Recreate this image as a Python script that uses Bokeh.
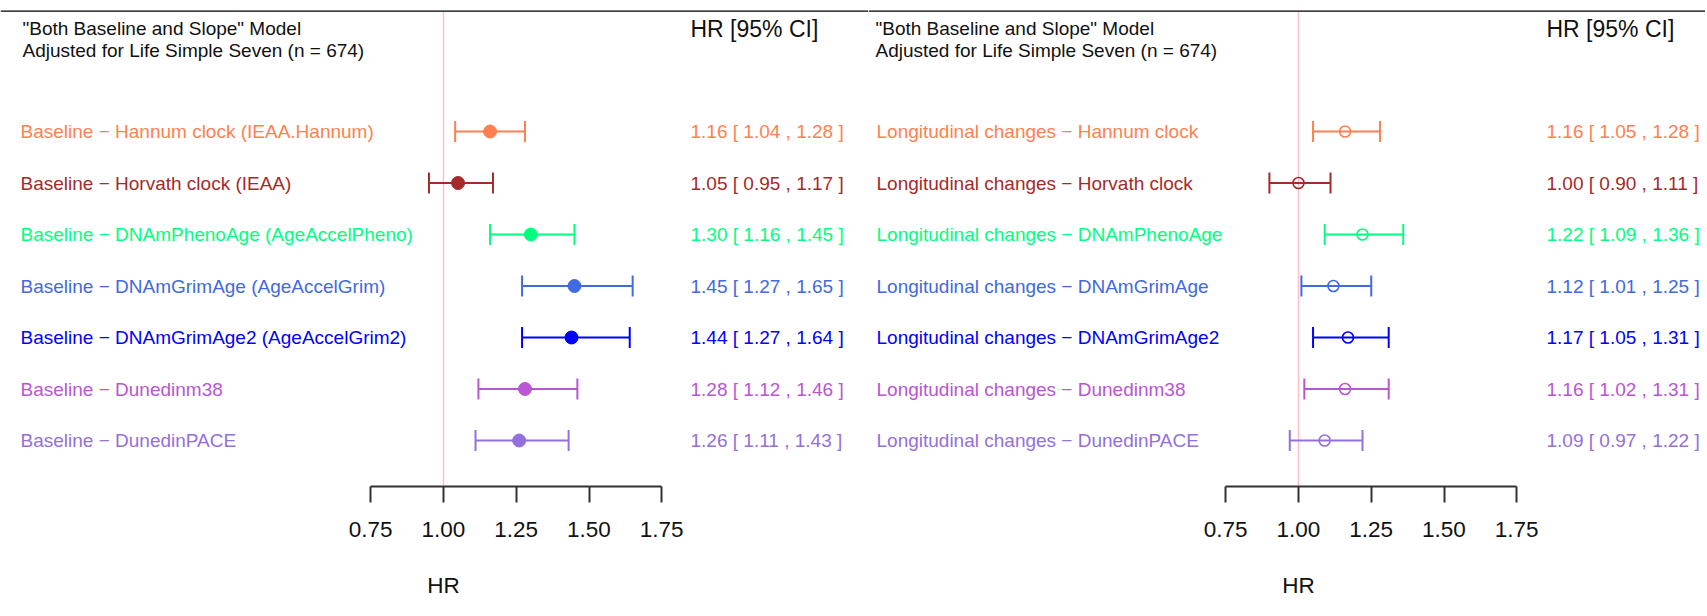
from bokeh.plotting import figure
from bokeh.layouts import row
from bokeh.models import (Range1d, Span, Label, FixedTicker, NumeralTickFormatter,
                          ColumnDataSource, LinearAxis, CustomJSTickFormatter)
from bokeh.core.properties import value
from bokeh.embed import file_html
from bokeh.resources import INLINE

# ---------------- data ----------------
title_lines = ['"Both Baseline and Slope" Model', "Adjusted for Life Simple Seven (n = 674)"]
header = "HR [95% CI]"
axis_title = "HR"
ticks = [0.75, 1.00, 1.25, 1.50, 1.75]

baseline_labels = [
    "Baseline  \u2212 Hannum clock (IEAA.Hannum)",
    "Baseline  \u2212 Horvath clock (IEAA)",
    "Baseline  \u2212 DNAmPhenoAge (AgeAccelPheno)",
    "Baseline  \u2212 DNAmGrimAge (AgeAccelGrim)",
    "Baseline  \u2212 DNAmGrimAge2 (AgeAccelGrim2)",
    "Baseline  \u2212 Dunedinm38",
    "Baseline  \u2212 DunedinPACE",
]
longitudinal_labels = [
    "Longitudinal changes \u2212 Hannum clock",
    "Longitudinal changes \u2212 Horvath clock",
    "Longitudinal changes \u2212 DNAmPhenoAge",
    "Longitudinal changes \u2212 DNAmGrimAge",
    "Longitudinal changes \u2212 DNAmGrimAge2",
    "Longitudinal changes \u2212 Dunedinm38",
    "Longitudinal changes \u2212 DunedinPACE",
]
colors = ["#FF7F50", "#A52A2A", "#00FF7F", "#4169E1", "#0000FF", "#BA55D3", "#9370DB"]

base_hr = [1.16, 1.05, 1.30, 1.45, 1.44, 1.28, 1.26]
base_lo = [1.04, 0.95, 1.16, 1.27, 1.27, 1.12, 1.11]
base_hi = [1.28, 1.17, 1.45, 1.65, 1.64, 1.46, 1.43]

long_hr = [1.16, 1.00, 1.22, 1.12, 1.17, 1.16, 1.09]
long_lo = [1.05, 0.90, 1.09, 1.01, 1.05, 1.02, 0.97]
long_hi = [1.28, 1.11, 1.36, 1.25, 1.31, 1.31, 1.22]

rows = [1, 2, 3, 4, 5, 6, 7]

# ---------------- layout constants ----------------
FONT = "Liberation Sans"
PX_PER_HR = 291.0
PX_PER_ROW = 51.5
FIG_H = 604
BORDER_TOP = 10
BORDER_BOTTOM = 118
FRAME_H = FIG_H - BORDER_TOP - BORDER_BOTTOM
FIRST_ROW_OFFSET = 121  # px from frame top to first row


def y_at(offset_px):
    return 1 - (FIRST_ROW_OFFSET - offset_px) / PX_PER_ROW


def make_panel(width, ref_px, labels, hr, lo, hi, filled, label_px, title_px, value_px):
    x0 = 1 - ref_px / PX_PER_HR
    x1 = x0 + width / PX_PER_HR

    def x_at(px):
        return x0 + px / PX_PER_HR

    y_top = y_at(0)
    y_bottom = y_at(FRAME_H)

    p = figure(width=width, height=FIG_H, output_backend="svg", toolbar_location=None,
               x_range=Range1d(x0, x1), y_range=Range1d(y_bottom, y_top),
               y_axis_location=None, min_border=0,
               min_border_left=0, min_border_right=0,
               min_border_top=BORDER_TOP, min_border_bottom=BORDER_BOTTOM)
    p.outline_line_color = None
    p.grid.visible = False
    p.background_fill_color = "white"
    p.border_fill_color = "white"

    ax = p.xaxis[0]
    ax.bounds = (ticks[0], ticks[-1])
    ax.ticker = FixedTicker(ticks=ticks)
    ax.formatter = NumeralTickFormatter(format="0.00")
    ax.axis_line_width = 2
    ax.axis_line_color = "#333333"
    ax.major_tick_line_width = 2
    ax.major_tick_line_color = "#333333"
    ax.major_tick_in = 0
    ax.major_tick_out = 16
    ax.minor_tick_line_color = None
    ax.major_label_standoff = 19
    ax.major_label_text_font = FONT
    ax.major_label_text_font_size = "22.5px"
    ax.major_label_text_color = "#111111"

    # "HR" axis title, centred at HR = 1.00, drawn as a second (line-less) axis
    hr_axis = LinearAxis(ticker=FixedTicker(ticks=[1.0]),
                         formatter=CustomJSTickFormatter(code=f"return '{axis_title}'"),
                         axis_line_color=None, major_tick_line_color=None,
                         minor_tick_line_color=None, major_tick_in=0, major_tick_out=0,
                         major_label_standoff=33, major_label_text_font=FONT,
                         major_label_text_font_size="22.5px", major_label_text_color="#111111")
    p.add_layout(hr_axis, "below")

    # reference line at HR = 1 and top border line
    p.add_layout(Span(location=1.0, dimension="height", line_color="#FFC0CB",
                      line_width=1.5, level="underlay"))
    p.add_layout(Span(location=y_top, dimension="width", line_color="black", line_width=2.5))

    texts = [f"{h:.2f} [ {l:.2f} , {u:.2f} ]" for h, l, u in zip(hr, lo, hi)]
    src = ColumnDataSource(dict(y=rows, hr=hr, lo=lo, hi=hi, color=colors, label=labels,
                                txt=texts))

    p.segment(x0="lo", x1="hi", y0="y", y1="y", line_color="color", line_width=2, source=src)
    p.scatter(x="lo", y="y", marker="dash", angle=1.5708, size=21, line_color="color",
              line_width=2, source=src)
    p.scatter(x="hi", y="y", marker="dash", angle=1.5708, size=21, line_color="color",
              line_width=2, source=src)
    if filled:
        p.scatter(x="hr", y="y", marker="circle", size=13, fill_color="color",
                  line_color="color", source=src)
    else:
        p.scatter(x="hr", y="y", marker="circle", size=11, fill_color=None,
                  line_color="color", line_width=1.6, source=src)

    p.text(x=x_at(label_px), y="y", text="label", text_color="color", text_font=value(FONT),
           text_font_size="19px", text_baseline="middle", text_align="left", source=src)
    p.text(x=x_at(value_px), y="y", text="txt", text_color="color", text_font=value(FONT),
           text_font_size="19px", text_baseline="middle", text_align="left", source=src)

    for i, line in enumerate(title_lines):
        p.add_layout(Label(x=x_at(title_px), y=y_at(18 + 22 * i), text=line, text_font=FONT,
                           text_font_size="19px", text_color="#111111",
                           text_baseline="middle", text_align="left"))
    p.add_layout(Label(x=x_at(value_px), y=y_at(18), text=header, text_font=FONT,
                       text_font_size="23px", text_color="#111111",
                       text_baseline="middle", text_align="left"))
    return p


left = make_panel(868, 443, baseline_labels, base_hr, base_lo, base_hi, True,
                  label_px=20, title_px=22, value_px=690)
right = make_panel(837, 430, longitudinal_labels, long_hr, long_lo, long_hi, False,
                   label_px=8, title_px=7, value_px=678)

layout = row(left, right)
open("out.html", "w").write(file_html(layout, INLINE))
